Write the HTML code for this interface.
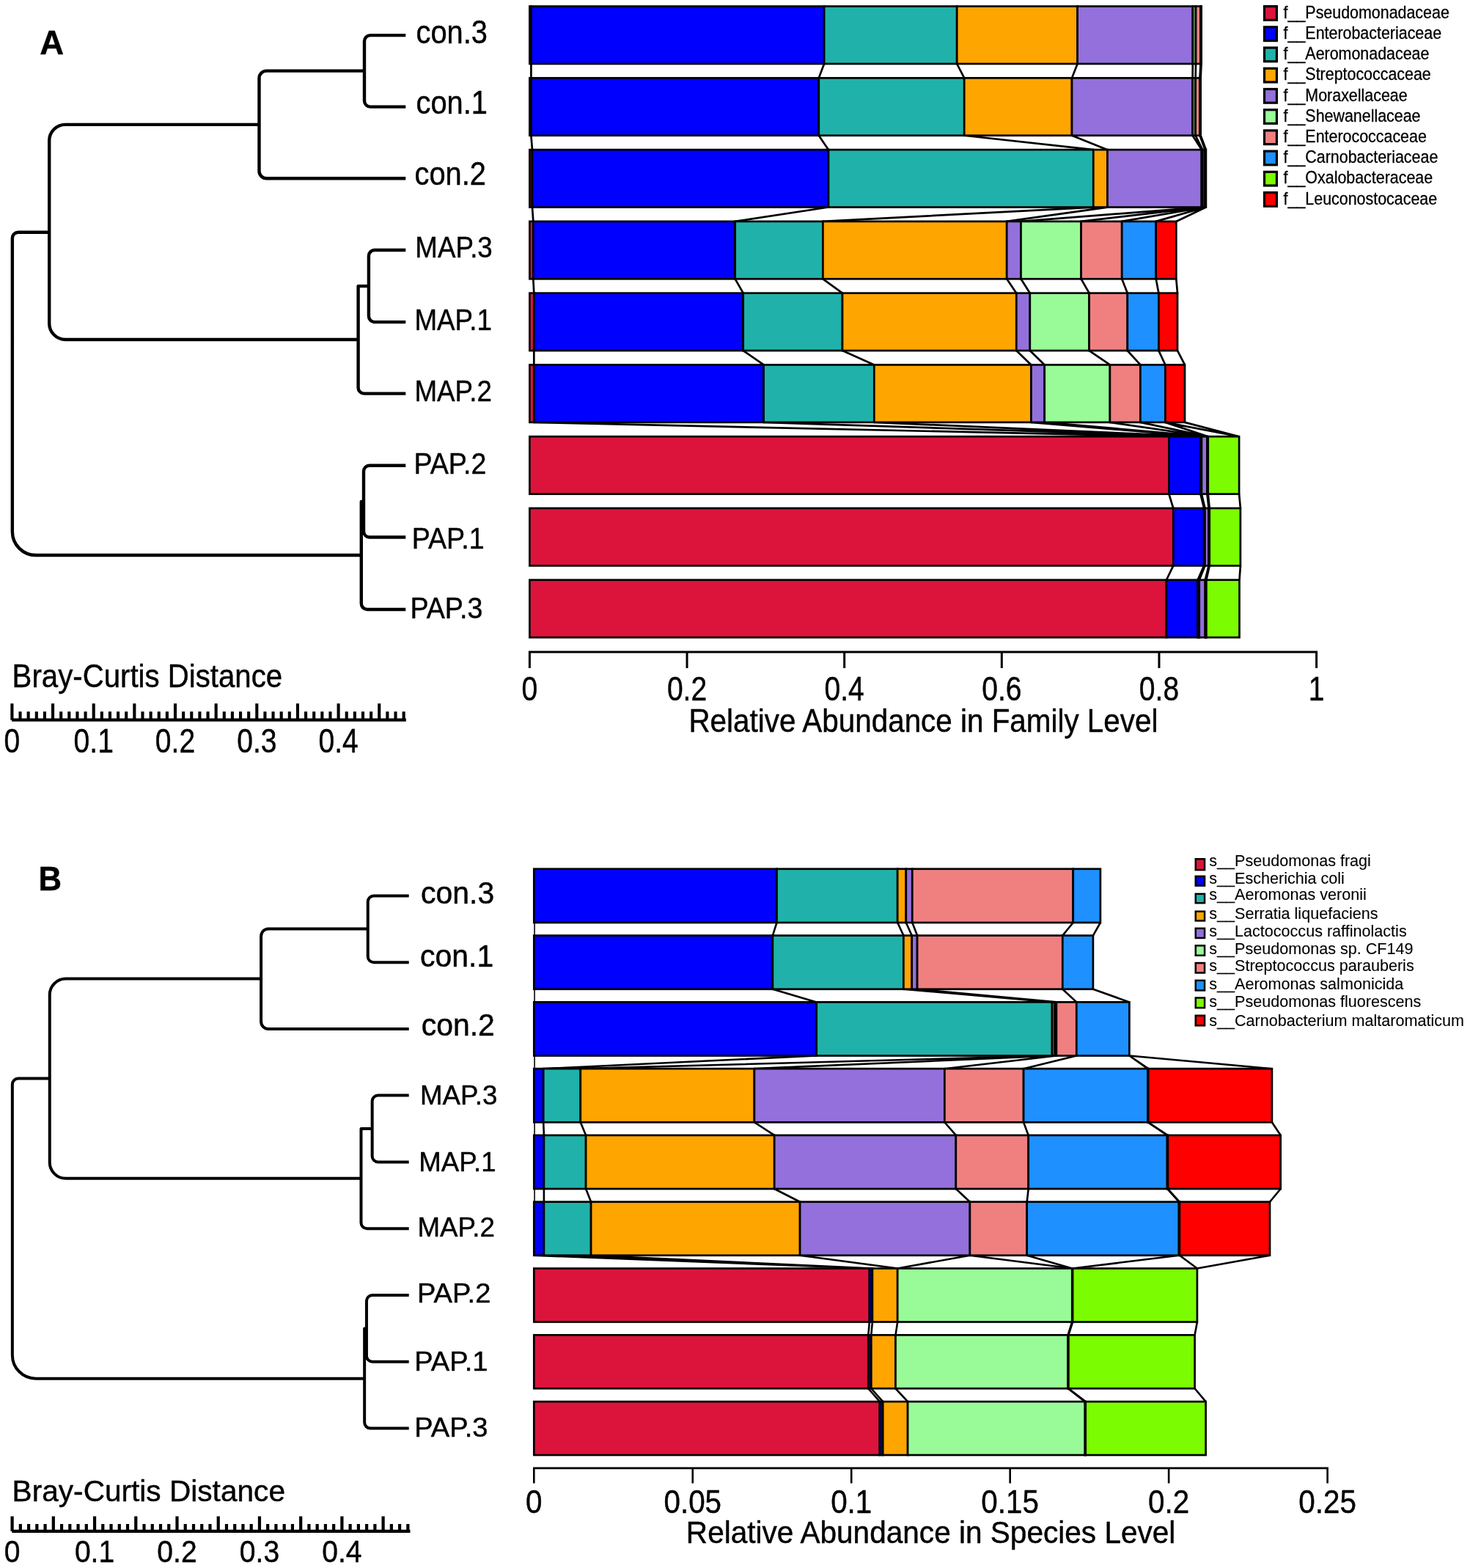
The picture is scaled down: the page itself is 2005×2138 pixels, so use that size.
<!DOCTYPE html>
<html lang="en">
<head>
<meta charset="utf-8">
<title>Relative abundance and Bray-Curtis clustering</title>
<style>
html,body{margin:0;padding:0;background:#fff;}
body{width:2005px;height:2138px;overflow:hidden;}
svg{display:block;}
svg text{font-family:'Liberation Sans', sans-serif;fill:#000;stroke:#000;stroke-width:0.45px;stroke-linejoin:round;}
svg text.sm{stroke-width:0.3px;}
svg text.lt{stroke-width:0.1px;}
</style>
</head>
<body>
<svg width="2005" height="2138" viewBox="0 0 2005 2138" role="img" aria-label="Bray-Curtis clustering trees and relative abundance bar plots at family and species level">
<rect x="0" y="0" width="2005" height="2138" fill="#fff"/>
<g id="panelA">
<path d="M1637.5 87L1638 87L1637 106.37L1636.5 106.37Z" fill="#1a1a1a"/>
<path d="M1638 87L1638.3 87L1637.3 106.37L1637 106.37Z" fill="#1a1a1a"/>
<path d="M1638.3 87L1638.55 87L1637.65 106.37L1637.3 106.37Z" fill="#1a1a1a"/>
<path d="M724.4 87L724.4 106.37M1124.1 87L1116.8 106.37M1305.2 87L1315.2 106.37M1469.6 87L1462 106.37M1626.8 87L1626.6 106.37M1631 87L1630.6 106.37M1637.5 87L1636.5 106.37M1638 87L1637 106.37M1638.3 87L1637.3 106.37M1638.55 87L1637.65 106.37" fill="none" stroke="#000" stroke-width="2.7"/>
<path d="M1636.5 184.77L1637 184.77L1644.2 204.14L1643.6 204.14Z" fill="#1a1a1a"/>
<path d="M1637 184.77L1637.3 184.77L1644.5 204.14L1644.2 204.14Z" fill="#1a1a1a"/>
<path d="M1637.3 184.77L1637.65 184.77L1644.9 204.14L1644.5 204.14Z" fill="#1a1a1a"/>
<path d="M724.4 184.77L726 204.14M1116.8 184.77L1130 204.14M1315.2 184.77L1491.3 204.14M1462 184.77L1510.5 204.14M1626.6 184.77L1638.9 204.14M1630.6 184.77L1640.2 204.14M1636.5 184.77L1643.6 204.14M1637 184.77L1644.2 204.14M1637.3 184.77L1644.5 204.14M1637.65 184.77L1644.9 204.14" fill="none" stroke="#000" stroke-width="2.7"/>
<path d="M1644.2 282.54L1644.5 282.54L1576.7 301.91L1576.7 301.91Z" fill="#1a1a1a"/>
<path d="M726 282.54L727.3 301.91M1130 282.54L1002.7 301.91M1491.3 282.54L1122.4 301.91M1510.5 282.54L1373.2 301.91M1638.9 282.54L1392.5 301.91M1640.2 282.54L1474.6 301.91M1643.6 282.54L1530.2 301.91M1644.2 282.54L1576.7 301.91M1644.5 282.54L1576.7 301.91M1644.9 282.54L1604.3 301.91" fill="none" stroke="#000" stroke-width="2.7"/>
<path d="M727.3 380.31L728.3 399.68M1002.7 380.31L1013.7 399.68M1122.4 380.31L1149 399.68M1373.2 380.31L1386.3 399.68M1392.5 380.31L1404.8 399.68M1474.6 380.31L1485.6 399.68M1530.2 380.31L1537.8 399.68M1576.7 380.31L1580.4 399.68M1604.3 380.31L1606 399.68" fill="none" stroke="#000" stroke-width="2.7"/>
<path d="M728.3 478.08L728.3 497.45M1013.7 478.08L1041.6 497.45M1149 478.08L1192.3 497.45M1386.3 478.08L1406.4 497.45M1404.8 478.08L1424.7 497.45M1485.6 478.08L1513.9 497.45M1537.8 478.08L1555.4 497.45M1580.4 478.08L1589.4 497.45M1606 478.08L1616 497.45" fill="none" stroke="#000" stroke-width="2.7"/>
<path d="M728.3 575.85L1594.4 595.22M1041.6 575.85L1637.4 595.22M1192.3 575.85L1638.2 595.22M1406.4 575.85L1638.95 595.22M1424.7 575.85L1646.5 595.22M1513.9 575.85L1647 595.22M1555.4 575.85L1647.4 595.22M1589.4 575.85L1647.75 595.22M1589.4 575.85L1690.1 595.22M1616 575.85L1690.1 595.22" fill="none" stroke="#000" stroke-width="2.7"/>
<path d="M1637.4 673.62L1638.2 673.62L1642.9 692.99L1642.2 692.99Z" fill="#1a1a1a"/>
<path d="M1638.2 673.62L1638.95 673.62L1643.5 692.99L1642.9 692.99Z" fill="#1a1a1a"/>
<path d="M1646.5 673.62L1647 673.62L1649 692.99L1648.65 692.99Z" fill="#1a1a1a"/>
<path d="M1647 673.62L1647.4 673.62L1649.4 692.99L1649 692.99Z" fill="#1a1a1a"/>
<path d="M1647.4 673.62L1647.75 673.62L1649.7 692.99L1649.4 692.99Z" fill="#1a1a1a"/>
<path d="M1594.4 673.62L1600.3 692.99M1637.4 673.62L1642.2 692.99M1638.2 673.62L1642.9 692.99M1638.95 673.62L1643.5 692.99M1646.5 673.62L1648.65 692.99M1647 673.62L1649 692.99M1647.4 673.62L1649.4 692.99M1647.75 673.62L1649.7 692.99M1690.1 673.62L1691.9 692.99" fill="none" stroke="#000" stroke-width="2.7"/>
<path d="M1642.2 771.39L1642.9 771.39L1634.7 790.76L1633.6 790.76Z" fill="#1a1a1a"/>
<path d="M1642.9 771.39L1643.5 771.39L1635.75 790.76L1634.7 790.76Z" fill="#1a1a1a"/>
<path d="M1648.65 771.39L1649 771.39L1644.4 790.76L1643.8 790.76Z" fill="#1a1a1a"/>
<path d="M1649 771.39L1649.4 771.39L1644.9 790.76L1644.4 790.76Z" fill="#1a1a1a"/>
<path d="M1649.4 771.39L1649.7 771.39L1645.4 790.76L1644.9 790.76Z" fill="#1a1a1a"/>
<path d="M1600.3 771.39L1590.95 790.76M1642.2 771.39L1633.6 790.76M1642.9 771.39L1634.7 790.76M1643.5 771.39L1635.75 790.76M1648.65 771.39L1643.8 790.76M1649 771.39L1644.4 790.76M1649.4 771.39L1644.9 790.76M1649.7 771.39L1645.4 790.76M1691.9 771.39L1690.5 790.76" fill="none" stroke="#000" stroke-width="2.7"/>
<rect x="722.4" y="8.6" width="2" height="78.4" fill="#4D0715" stroke="#000" stroke-width="2.7"/>
<rect x="724.4" y="8.6" width="399.7" height="78.4" fill="#0000FF" stroke="#000" stroke-width="2.7"/>
<rect x="1124.1" y="8.6" width="181.1" height="78.4" fill="#20B2AA" stroke="#000" stroke-width="2.7"/>
<rect x="1305.2" y="8.6" width="164.4" height="78.4" fill="#FFA500" stroke="#000" stroke-width="2.7"/>
<rect x="1469.6" y="8.6" width="157.2" height="78.4" fill="#9370DB" stroke="#000" stroke-width="2.7"/>
<rect x="1626.8" y="8.6" width="4.2" height="78.4" fill="#73BE73" stroke="#000" stroke-width="2.7"/>
<rect x="1631" y="8.6" width="6.5" height="78.4" fill="#F08080" stroke="#000" stroke-width="2.7"/>
<rect x="1637.5" y="8.6" width="0.5" height="78.4" fill="#0B3259" stroke="#000" stroke-width="2.7"/>
<rect x="1638" y="8.6" width="0.3" height="78.4" fill="#2B5800" stroke="#000" stroke-width="2.7"/>
<rect x="1638.3" y="8.6" width="0.25" height="78.4" fill="#590000" stroke="#000" stroke-width="2.7"/>
<rect x="722.4" y="106.37" width="2" height="78.4" fill="#4D0715" stroke="#000" stroke-width="2.7"/>
<rect x="724.4" y="106.37" width="392.4" height="78.4" fill="#0000FF" stroke="#000" stroke-width="2.7"/>
<rect x="1116.8" y="106.37" width="198.4" height="78.4" fill="#20B2AA" stroke="#000" stroke-width="2.7"/>
<rect x="1315.2" y="106.37" width="146.8" height="78.4" fill="#FFA500" stroke="#000" stroke-width="2.7"/>
<rect x="1462" y="106.37" width="164.6" height="78.4" fill="#9370DB" stroke="#000" stroke-width="2.7"/>
<rect x="1626.6" y="106.37" width="4" height="78.4" fill="#6BB06B" stroke="#000" stroke-width="2.7"/>
<rect x="1630.6" y="106.37" width="5.9" height="78.4" fill="#F08080" stroke="#000" stroke-width="2.7"/>
<rect x="1636.5" y="106.37" width="0.5" height="78.4" fill="#0B3259" stroke="#000" stroke-width="2.7"/>
<rect x="1637" y="106.37" width="0.3" height="78.4" fill="#2B5800" stroke="#000" stroke-width="2.7"/>
<rect x="1637.3" y="106.37" width="0.35" height="78.4" fill="#590000" stroke="#000" stroke-width="2.7"/>
<rect x="722.4" y="204.14" width="3.6" height="78.4" fill="#830C24" stroke="#000" stroke-width="2.7"/>
<rect x="726" y="204.14" width="404" height="78.4" fill="#0000FF" stroke="#000" stroke-width="2.7"/>
<rect x="1130" y="204.14" width="361.3" height="78.4" fill="#20B2AA" stroke="#000" stroke-width="2.7"/>
<rect x="1491.3" y="204.14" width="19.2" height="78.4" fill="#FFA500" stroke="#000" stroke-width="2.7"/>
<rect x="1510.5" y="204.14" width="128.4" height="78.4" fill="#9370DB" stroke="#000" stroke-width="2.7"/>
<rect x="1638.9" y="204.14" width="1.3" height="78.4" fill="#355835" stroke="#000" stroke-width="2.7"/>
<rect x="1640.2" y="204.14" width="3.4" height="78.4" fill="#814545" stroke="#000" stroke-width="2.7"/>
<rect x="1643.6" y="204.14" width="0.6" height="78.4" fill="#0B3259" stroke="#000" stroke-width="2.7"/>
<rect x="1644.2" y="204.14" width="0.3" height="78.4" fill="#2B5800" stroke="#000" stroke-width="2.7"/>
<rect x="1644.5" y="204.14" width="0.4" height="78.4" fill="#590000" stroke="#000" stroke-width="2.7"/>
<rect x="722.4" y="301.91" width="4.9" height="78.4" fill="#D01339" stroke="#000" stroke-width="2.7"/>
<rect x="727.3" y="301.91" width="275.4" height="78.4" fill="#0000FF" stroke="#000" stroke-width="2.7"/>
<rect x="1002.7" y="301.91" width="119.7" height="78.4" fill="#20B2AA" stroke="#000" stroke-width="2.7"/>
<rect x="1122.4" y="301.91" width="250.8" height="78.4" fill="#FFA500" stroke="#000" stroke-width="2.7"/>
<rect x="1373.2" y="301.91" width="19.3" height="78.4" fill="#9370DB" stroke="#000" stroke-width="2.7"/>
<rect x="1392.5" y="301.91" width="82.1" height="78.4" fill="#98FB98" stroke="#000" stroke-width="2.7"/>
<rect x="1474.6" y="301.91" width="55.6" height="78.4" fill="#F08080" stroke="#000" stroke-width="2.7"/>
<rect x="1530.2" y="301.91" width="46.5" height="78.4" fill="#1E90FF" stroke="#000" stroke-width="2.7"/>
<rect x="1576.7" y="301.91" width="27.6" height="78.4" fill="#FF0000" stroke="#000" stroke-width="2.7"/>
<rect x="722.4" y="399.68" width="5.9" height="78.4" fill="#DC143C" stroke="#000" stroke-width="2.7"/>
<rect x="728.3" y="399.68" width="285.4" height="78.4" fill="#0000FF" stroke="#000" stroke-width="2.7"/>
<rect x="1013.7" y="399.68" width="135.3" height="78.4" fill="#20B2AA" stroke="#000" stroke-width="2.7"/>
<rect x="1149" y="399.68" width="237.3" height="78.4" fill="#FFA500" stroke="#000" stroke-width="2.7"/>
<rect x="1386.3" y="399.68" width="18.5" height="78.4" fill="#9370DB" stroke="#000" stroke-width="2.7"/>
<rect x="1404.8" y="399.68" width="80.8" height="78.4" fill="#98FB98" stroke="#000" stroke-width="2.7"/>
<rect x="1485.6" y="399.68" width="52.2" height="78.4" fill="#F08080" stroke="#000" stroke-width="2.7"/>
<rect x="1537.8" y="399.68" width="42.6" height="78.4" fill="#1E90FF" stroke="#000" stroke-width="2.7"/>
<rect x="1580.4" y="399.68" width="25.6" height="78.4" fill="#FF0000" stroke="#000" stroke-width="2.7"/>
<rect x="722.4" y="497.45" width="5.9" height="78.4" fill="#DC143C" stroke="#000" stroke-width="2.7"/>
<rect x="728.3" y="497.45" width="313.3" height="78.4" fill="#0000FF" stroke="#000" stroke-width="2.7"/>
<rect x="1041.6" y="497.45" width="150.7" height="78.4" fill="#20B2AA" stroke="#000" stroke-width="2.7"/>
<rect x="1192.3" y="497.45" width="214.1" height="78.4" fill="#FFA500" stroke="#000" stroke-width="2.7"/>
<rect x="1406.4" y="497.45" width="18.3" height="78.4" fill="#9370DB" stroke="#000" stroke-width="2.7"/>
<rect x="1424.7" y="497.45" width="89.2" height="78.4" fill="#98FB98" stroke="#000" stroke-width="2.7"/>
<rect x="1513.9" y="497.45" width="41.5" height="78.4" fill="#F08080" stroke="#000" stroke-width="2.7"/>
<rect x="1555.4" y="497.45" width="34" height="78.4" fill="#1E90FF" stroke="#000" stroke-width="2.7"/>
<rect x="1589.4" y="497.45" width="26.6" height="78.4" fill="#FF0000" stroke="#000" stroke-width="2.7"/>
<rect x="722.4" y="595.22" width="872" height="78.4" fill="#DC143C" stroke="#000" stroke-width="2.7"/>
<rect x="1594.4" y="595.22" width="43" height="78.4" fill="#0000FF" stroke="#000" stroke-width="2.7"/>
<rect x="1637.4" y="595.22" width="0.8" height="78.4" fill="#0B3E3B" stroke="#000" stroke-width="2.7"/>
<rect x="1638.2" y="595.22" width="0.75" height="78.4" fill="#593A00" stroke="#000" stroke-width="2.7"/>
<rect x="1638.95" y="595.22" width="7.55" height="78.4" fill="#9370DB" stroke="#000" stroke-width="2.7"/>
<rect x="1646.5" y="595.22" width="0.5" height="78.4" fill="#355835" stroke="#000" stroke-width="2.7"/>
<rect x="1647" y="595.22" width="0.4" height="78.4" fill="#542D2D" stroke="#000" stroke-width="2.7"/>
<rect x="1647.4" y="595.22" width="0.35" height="78.4" fill="#0B3259" stroke="#000" stroke-width="2.7"/>
<rect x="1647.75" y="595.22" width="42.35" height="78.4" fill="#7CFC00" stroke="#000" stroke-width="2.7"/>
<rect x="722.4" y="692.99" width="877.9" height="78.4" fill="#DC143C" stroke="#000" stroke-width="2.7"/>
<rect x="1600.3" y="692.99" width="41.9" height="78.4" fill="#0000FF" stroke="#000" stroke-width="2.7"/>
<rect x="1642.2" y="692.99" width="0.7" height="78.4" fill="#0B3E3B" stroke="#000" stroke-width="2.7"/>
<rect x="1642.9" y="692.99" width="0.6" height="78.4" fill="#593A00" stroke="#000" stroke-width="2.7"/>
<rect x="1643.5" y="692.99" width="5.15" height="78.4" fill="#9370DB" stroke="#000" stroke-width="2.7"/>
<rect x="1648.65" y="692.99" width="0.35" height="78.4" fill="#355835" stroke="#000" stroke-width="2.7"/>
<rect x="1649" y="692.99" width="0.4" height="78.4" fill="#542D2D" stroke="#000" stroke-width="2.7"/>
<rect x="1649.4" y="692.99" width="0.3" height="78.4" fill="#0B3259" stroke="#000" stroke-width="2.7"/>
<rect x="1649.7" y="692.99" width="42.2" height="78.4" fill="#7CFC00" stroke="#000" stroke-width="2.7"/>
<rect x="722.4" y="790.76" width="868.55" height="78.4" fill="#DC143C" stroke="#000" stroke-width="2.7"/>
<rect x="1590.95" y="790.76" width="42.65" height="78.4" fill="#0000FF" stroke="#000" stroke-width="2.7"/>
<rect x="1633.6" y="790.76" width="1.1" height="78.4" fill="#0B3E3B" stroke="#000" stroke-width="2.7"/>
<rect x="1634.7" y="790.76" width="1.05" height="78.4" fill="#593A00" stroke="#000" stroke-width="2.7"/>
<rect x="1635.75" y="790.76" width="8.05" height="78.4" fill="#9370DB" stroke="#000" stroke-width="2.7"/>
<rect x="1643.8" y="790.76" width="0.6" height="78.4" fill="#355835" stroke="#000" stroke-width="2.7"/>
<rect x="1644.4" y="790.76" width="0.5" height="78.4" fill="#542D2D" stroke="#000" stroke-width="2.7"/>
<rect x="1644.9" y="790.76" width="0.5" height="78.4" fill="#0B3259" stroke="#000" stroke-width="2.7"/>
<rect x="1645.4" y="790.76" width="45.1" height="78.4" fill="#7CFC00" stroke="#000" stroke-width="2.7"/>
<path d="M722.4 911V889H1795.6V911" fill="none" stroke="#000" stroke-width="3"/>
<path d="M937.04 889V911M1151.68 889V911M1366.32 889V911M1580.96 889V911" fill="none" stroke="#000" stroke-width="3"/>
<text transform="translate(722.4 955) scale(0.84 1)" font-size="46.5" text-anchor="middle">0</text>
<text transform="translate(937.04 955) scale(0.84 1)" font-size="46.5" text-anchor="middle">0.2</text>
<text transform="translate(1151.68 955) scale(0.84 1)" font-size="46.5" text-anchor="middle">0.4</text>
<text transform="translate(1366.32 955) scale(0.84 1)" font-size="46.5" text-anchor="middle">0.6</text>
<text transform="translate(1580.96 955) scale(0.84 1)" font-size="46.5" text-anchor="middle">0.8</text>
<text transform="translate(1795.6 955) scale(0.84 1)" font-size="46.5" text-anchor="middle">1</text>
<text transform="translate(1259.4 998.2) scale(0.9 1)" font-size="44.9" text-anchor="middle">Relative Abundance in Family Level</text>
<rect x="1724.5" y="8.65" width="16.9" height="18.7" fill="#DC143C" stroke="#000" stroke-width="3.2"/>
<text class="sm" transform="translate(1750.6 24.8) scale(0.912 1)" font-size="23.5">f__Pseudomonadaceae</text>
<rect x="1724.5" y="36.86" width="16.9" height="18.7" fill="#0000FF" stroke="#000" stroke-width="3.2"/>
<text class="sm" transform="translate(1750.6 53.01) scale(0.912 1)" font-size="23.5">f__Enterobacteriaceae</text>
<rect x="1724.5" y="65.07" width="16.9" height="18.7" fill="#20B2AA" stroke="#000" stroke-width="3.2"/>
<text class="sm" transform="translate(1750.6 81.22) scale(0.912 1)" font-size="23.5">f__Aeromonadaceae</text>
<rect x="1724.5" y="93.28" width="16.9" height="18.7" fill="#FFA500" stroke="#000" stroke-width="3.2"/>
<text class="sm" transform="translate(1750.6 109.43) scale(0.912 1)" font-size="23.5">f__Streptococcaceae</text>
<rect x="1724.5" y="121.49" width="16.9" height="18.7" fill="#9370DB" stroke="#000" stroke-width="3.2"/>
<text class="sm" transform="translate(1750.6 137.64) scale(0.912 1)" font-size="23.5">f__Moraxellaceae</text>
<rect x="1724.5" y="149.7" width="16.9" height="18.7" fill="#98FB98" stroke="#000" stroke-width="3.2"/>
<text class="sm" transform="translate(1750.6 165.85) scale(0.912 1)" font-size="23.5">f__Shewanellaceae</text>
<rect x="1724.5" y="177.91" width="16.9" height="18.7" fill="#F08080" stroke="#000" stroke-width="3.2"/>
<text class="sm" transform="translate(1750.6 194.06) scale(0.912 1)" font-size="23.5">f__Enterococcaceae</text>
<rect x="1724.5" y="206.12" width="16.9" height="18.7" fill="#1E90FF" stroke="#000" stroke-width="3.2"/>
<text class="sm" transform="translate(1750.6 222.27) scale(0.912 1)" font-size="23.5">f__Carnobacteriaceae</text>
<rect x="1724.5" y="234.33" width="16.9" height="18.7" fill="#7CFC00" stroke="#000" stroke-width="3.2"/>
<text class="sm" transform="translate(1750.6 250.48) scale(0.912 1)" font-size="23.5">f__Oxalobacteraceae</text>
<rect x="1724.5" y="262.54" width="16.9" height="18.7" fill="#FF0000" stroke="#000" stroke-width="3.2"/>
<text class="sm" transform="translate(1750.6 278.69) scale(0.912 1)" font-size="23.5">f__Leuconostocaceae</text>
<text transform="translate(54.2 73.8) scale(0.98 1)" font-size="46.5" font-weight="bold">A</text>
<path d="M16.85 536.85V324.7A8 8 0 0 1 24.85 316.7H67.2M16.85 536.85V725A32 32 0 0 0 48.85 757H492.8M67.2 316.7V191.85A22 22 0 0 1 89.2 169.85H353.5M67.2 316.7V441A22 22 0 0 0 89.2 463H488.6M353.5 169.85V106.6A10 10 0 0 1 363.5 96.6H497M353.5 169.85V233.3A10 10 0 0 0 363.5 243.3H553.3M497 96.6V56.1A8 8 0 0 1 505 48.1H553.3M497 96.6V137.6A8 8 0 0 0 505 145.6H553.3M488.6 463V390.1H502.9M488.6 463V528.65A8 8 0 0 0 496.6 536.65H553.3M502.9 390.1V349A8 8 0 0 1 510.9 341H553.3M502.9 390.1V431.1A8 8 0 0 0 510.9 439.1H553.3M492.8 757V684H496M492.8 757V823A8 8 0 0 0 500.8 831H553.3M496 684V642.7A8 8 0 0 1 504 634.7H553.3M496 684V724.55A8 8 0 0 0 504 732.55H553.3" fill="none" stroke="#000" stroke-width="4.4" stroke-linejoin="round"/>
<text transform="translate(567.5 59.3) scale(0.885 1)" font-size="45">con.3</text>
<text transform="translate(567.5 155.2) scale(0.885 1)" font-size="45">con.1</text>
<text transform="translate(565.5 251.6) scale(0.885 1)" font-size="45">con.2</text>
<text transform="translate(566.3 350.6) scale(0.905 1)" font-size="40.6">MAP.3</text>
<text transform="translate(565.5 449.75) scale(0.905 1)" font-size="40.6">MAP.1</text>
<text transform="translate(565.5 546.9) scale(0.905 1)" font-size="40.6">MAP.2</text>
<text transform="translate(564.5 646.25) scale(0.931 1)" font-size="40.4">PAP.2</text>
<text transform="translate(561.75 748) scale(0.931 1)" font-size="40.4">PAP.1</text>
<text transform="translate(559.5 842.8) scale(0.931 1)" font-size="40.4">PAP.3</text>
<line x1="16.1" y1="981.65" x2="553.8" y2="981.65" stroke="#000" stroke-width="4.3"/>
<path d="M16.4 981.65V959.3M27.53 981.65V970.2M38.66 981.65V970.2M49.79 981.65V970.2M60.92 981.65V970.2M72.05 981.65V959.3M83.18 981.65V970.2M94.31 981.65V970.2M105.44 981.65V970.2M116.57 981.65V970.2M127.7 981.65V959.3M138.83 981.65V970.2M149.96 981.65V970.2M161.09 981.65V970.2M172.22 981.65V970.2M183.35 981.65V959.3M194.48 981.65V970.2M205.61 981.65V970.2M216.74 981.65V970.2M227.87 981.65V970.2M239 981.65V959.3M250.13 981.65V970.2M261.26 981.65V970.2M272.39 981.65V970.2M283.52 981.65V970.2M294.65 981.65V959.3M305.78 981.65V970.2M316.91 981.65V970.2M328.04 981.65V970.2M339.17 981.65V970.2M350.3 981.65V959.3M361.43 981.65V970.2M372.56 981.65V970.2M383.69 981.65V970.2M394.82 981.65V970.2M405.95 981.65V959.3M417.08 981.65V970.2M428.21 981.65V970.2M439.34 981.65V970.2M450.47 981.65V970.2M461.6 981.65V959.3M472.73 981.65V970.2M483.86 981.65V970.2M494.99 981.65V970.2M506.12 981.65V970.2M517.25 981.65V959.3M528.38 981.65V970.2M539.51 981.65V970.2M550.64 981.65V970.2" fill="none" stroke="#000" stroke-width="4.1"/>
<text transform="translate(16.6 937) scale(0.918 1)" font-size="43.8">Bray-Curtis Distance</text>
<text transform="translate(16.4 1026.4) scale(0.84 1)" font-size="46.5" text-anchor="middle">0</text>
<text transform="translate(127.7 1026.4) scale(0.84 1)" font-size="46.5" text-anchor="middle">0.1</text>
<text transform="translate(239 1026.4) scale(0.84 1)" font-size="46.5" text-anchor="middle">0.2</text>
<text transform="translate(350.3 1026.4) scale(0.84 1)" font-size="46.5" text-anchor="middle">0.3</text>
<text transform="translate(461.6 1026.4) scale(0.84 1)" font-size="46.5" text-anchor="middle">0.4</text>
</g>
<g id="panelB">
<path d="M729.08 1258V1275.59" fill="none" stroke="#000" stroke-width="1.56"/>
<path d="M1059.5 1258L1053.9 1275.59M1224.2 1258L1232.4 1275.59M1235.8 1258L1243.7 1275.59M1244.3 1258L1251.1 1275.59M1463.7 1258L1449.3 1275.59M1500.9 1258L1490.9 1275.59" fill="none" stroke="#000" stroke-width="2.6"/>
<path d="M729.08 1348.75V1366.38" fill="none" stroke="#000" stroke-width="1.56"/>
<path d="M1053.9 1348.75L1113.7 1366.38M1232.4 1348.75L1435 1366.38M1243.7 1348.75L1438.9 1366.38M1251.1 1348.75L1440.9 1366.38M1449.3 1348.75L1468.3 1366.38M1490.9 1348.75L1540.4 1366.38" fill="none" stroke="#000" stroke-width="2.6"/>
<path d="M729.08 1439.5V1457.17" fill="none" stroke="#000" stroke-width="1.56"/>
<path d="M1540.4 1439.5L1540.4 1439.5L1566.2 1457.17L1565.4 1457.17Z" fill="#1a1a1a"/>
<path d="M1113.7 1439.5L741.2 1457.17M1435 1439.5L791.8 1457.17M1438.9 1439.5L1028.9 1457.17M1440.9 1439.5L1288.4 1457.17M1468.3 1439.5L1396.1 1457.17M1540.4 1439.5L1565.4 1457.17M1540.4 1439.5L1566.2 1457.17M1540.4 1439.5L1734.9 1457.17" fill="none" stroke="#000" stroke-width="2.6"/>
<path d="M729.08 1530.25V1547.96" fill="none" stroke="#000" stroke-width="1.56"/>
<path d="M1565.4 1530.25L1566.2 1530.25L1592.9 1547.96L1592 1547.96Z" fill="#1a1a1a"/>
<path d="M741.2 1530.25L741.9 1547.96M791.8 1530.25L799.1 1547.96M1028.9 1530.25L1056.2 1547.96M1288.4 1530.25L1303.8 1547.96M1396.1 1530.25L1402.7 1547.96M1565.4 1530.25L1592 1547.96M1566.2 1530.25L1592.9 1547.96M1734.9 1530.25L1746.7 1547.96" fill="none" stroke="#000" stroke-width="2.6"/>
<path d="M729.08 1621V1638.75" fill="none" stroke="#000" stroke-width="1.56"/>
<path d="M1592 1621L1592.9 1621L1608.9 1638.75L1608 1638.75Z" fill="#1a1a1a"/>
<path d="M741.9 1621L741.9 1638.75M799.1 1621L806.1 1638.75M1056.2 1621L1091.1 1638.75M1303.8 1621L1322.9 1638.75M1402.7 1621L1400.7 1638.75M1592 1621L1608 1638.75M1592.9 1621L1608.9 1638.75M1746.7 1621L1732 1638.75" fill="none" stroke="#000" stroke-width="2.6"/>
<path d="M728.3 1711.75L1185.9 1729.54M741.9 1711.75L1189.9 1729.54M806.1 1711.75L1189.9 1729.54M1091.1 1711.75L1224.2 1729.54M1322.9 1711.75L1224.2 1729.54M1322.9 1711.75L1462.3 1729.54M1400.7 1711.75L1462.3 1729.54M1608 1711.75L1463.1 1729.54M1608.9 1711.75L1632.9 1729.54M1732 1711.75L1632.9 1729.54" fill="none" stroke="#000" stroke-width="2.6"/>
<path d="M1185.9 1802.5L1184.3 1820.33M1189.9 1802.5L1188.3 1820.33M1224.2 1802.5L1221.5 1820.33M1462.3 1802.5L1456.6 1820.33M1463.1 1802.5L1457.4 1820.33M1632.9 1802.5L1629.6 1820.33" fill="none" stroke="#000" stroke-width="2.6"/>
<path d="M1184.3 1893.25L1199.9 1911.12M1188.3 1893.25L1204.2 1911.12M1221.5 1893.25L1238.1 1911.12M1456.6 1893.25L1479.9 1911.12M1457.4 1893.25L1480.7 1911.12M1629.6 1893.25L1644.6 1911.12" fill="none" stroke="#000" stroke-width="2.6"/>
<rect x="728.3" y="1184.8" width="331.2" height="73.2" fill="#0000FF" stroke="#000" stroke-width="2.7"/>
<rect x="1059.5" y="1184.8" width="164.7" height="73.2" fill="#20B2AA" stroke="#000" stroke-width="2.7"/>
<rect x="1224.2" y="1184.8" width="11.6" height="73.2" fill="#FFA500" stroke="#000" stroke-width="2.7"/>
<rect x="1235.8" y="1184.8" width="8.5" height="73.2" fill="#9370DB" stroke="#000" stroke-width="2.7"/>
<rect x="1244.3" y="1184.8" width="219.4" height="73.2" fill="#F08080" stroke="#000" stroke-width="2.7"/>
<rect x="1463.7" y="1184.8" width="37.2" height="73.2" fill="#1E90FF" stroke="#000" stroke-width="2.7"/>
<rect x="728.3" y="1275.59" width="325.6" height="73.16" fill="#0000FF" stroke="#000" stroke-width="2.7"/>
<rect x="1053.9" y="1275.59" width="178.5" height="73.16" fill="#20B2AA" stroke="#000" stroke-width="2.7"/>
<rect x="1232.4" y="1275.59" width="11.3" height="73.16" fill="#FFA500" stroke="#000" stroke-width="2.7"/>
<rect x="1243.7" y="1275.59" width="7.4" height="73.16" fill="#9370DB" stroke="#000" stroke-width="2.7"/>
<rect x="1251.1" y="1275.59" width="198.2" height="73.16" fill="#F08080" stroke="#000" stroke-width="2.7"/>
<rect x="1449.3" y="1275.59" width="41.6" height="73.16" fill="#1E90FF" stroke="#000" stroke-width="2.7"/>
<rect x="728.3" y="1366.38" width="385.4" height="73.12" fill="#0000FF" stroke="#000" stroke-width="2.7"/>
<rect x="1113.7" y="1366.38" width="321.3" height="73.12" fill="#20B2AA" stroke="#000" stroke-width="2.7"/>
<rect x="1435" y="1366.38" width="3.9" height="73.12" fill="#AC6F00" stroke="#000" stroke-width="2.7"/>
<rect x="1438.9" y="1366.38" width="2" height="73.12" fill="#33274D" stroke="#000" stroke-width="2.7"/>
<rect x="1440.9" y="1366.38" width="27.4" height="73.12" fill="#F08080" stroke="#000" stroke-width="2.7"/>
<rect x="1468.3" y="1366.38" width="72.1" height="73.12" fill="#1E90FF" stroke="#000" stroke-width="2.7"/>
<rect x="728.3" y="1457.17" width="12.9" height="73.08" fill="#0000FF" stroke="#000" stroke-width="2.7"/>
<rect x="741.2" y="1457.17" width="50.6" height="73.08" fill="#20B2AA" stroke="#000" stroke-width="2.7"/>
<rect x="791.8" y="1457.17" width="237.1" height="73.08" fill="#FFA500" stroke="#000" stroke-width="2.7"/>
<rect x="1028.9" y="1457.17" width="259.5" height="73.08" fill="#9370DB" stroke="#000" stroke-width="2.7"/>
<rect x="1288.4" y="1457.17" width="107.7" height="73.08" fill="#F08080" stroke="#000" stroke-width="2.7"/>
<rect x="1396.1" y="1457.17" width="169.3" height="73.08" fill="#1E90FF" stroke="#000" stroke-width="2.7"/>
<rect x="1565.4" y="1457.17" width="0.8" height="73.08" fill="#2B5800" stroke="#000" stroke-width="2.7"/>
<rect x="1566.2" y="1457.17" width="168.7" height="73.08" fill="#FF0000" stroke="#000" stroke-width="2.7"/>
<rect x="728.3" y="1547.96" width="13.6" height="73.04" fill="#0000FF" stroke="#000" stroke-width="2.7"/>
<rect x="741.9" y="1547.96" width="57.2" height="73.04" fill="#20B2AA" stroke="#000" stroke-width="2.7"/>
<rect x="799.1" y="1547.96" width="257.1" height="73.04" fill="#FFA500" stroke="#000" stroke-width="2.7"/>
<rect x="1056.2" y="1547.96" width="247.6" height="73.04" fill="#9370DB" stroke="#000" stroke-width="2.7"/>
<rect x="1303.8" y="1547.96" width="98.9" height="73.04" fill="#F08080" stroke="#000" stroke-width="2.7"/>
<rect x="1402.7" y="1547.96" width="189.3" height="73.04" fill="#1E90FF" stroke="#000" stroke-width="2.7"/>
<rect x="1592" y="1547.96" width="0.9" height="73.04" fill="#2B5800" stroke="#000" stroke-width="2.7"/>
<rect x="1592.9" y="1547.96" width="153.8" height="73.04" fill="#FF0000" stroke="#000" stroke-width="2.7"/>
<rect x="728.3" y="1638.75" width="13.6" height="73" fill="#0000FF" stroke="#000" stroke-width="2.7"/>
<rect x="741.9" y="1638.75" width="64.2" height="73" fill="#20B2AA" stroke="#000" stroke-width="2.7"/>
<rect x="806.1" y="1638.75" width="285" height="73" fill="#FFA500" stroke="#000" stroke-width="2.7"/>
<rect x="1091.1" y="1638.75" width="231.8" height="73" fill="#9370DB" stroke="#000" stroke-width="2.7"/>
<rect x="1322.9" y="1638.75" width="77.8" height="73" fill="#F08080" stroke="#000" stroke-width="2.7"/>
<rect x="1400.7" y="1638.75" width="207.3" height="73" fill="#1E90FF" stroke="#000" stroke-width="2.7"/>
<rect x="1608" y="1638.75" width="0.9" height="73" fill="#2B5800" stroke="#000" stroke-width="2.7"/>
<rect x="1608.9" y="1638.75" width="123.1" height="73" fill="#FF0000" stroke="#000" stroke-width="2.7"/>
<rect x="728.3" y="1729.54" width="457.6" height="72.96" fill="#DC143C" stroke="#000" stroke-width="2.7"/>
<rect x="1185.9" y="1729.54" width="4" height="72.96" fill="#0000B3" stroke="#000" stroke-width="2.7"/>
<rect x="1189.9" y="1729.54" width="34.3" height="72.96" fill="#FFA500" stroke="#000" stroke-width="2.7"/>
<rect x="1224.2" y="1729.54" width="238.1" height="72.96" fill="#98FB98" stroke="#000" stroke-width="2.7"/>
<rect x="1462.3" y="1729.54" width="0.8" height="72.96" fill="#0B3259" stroke="#000" stroke-width="2.7"/>
<rect x="1463.1" y="1729.54" width="169.8" height="72.96" fill="#7CFC00" stroke="#000" stroke-width="2.7"/>
<rect x="728.3" y="1820.33" width="456" height="72.92" fill="#DC143C" stroke="#000" stroke-width="2.7"/>
<rect x="1184.3" y="1820.33" width="4" height="72.92" fill="#0000B3" stroke="#000" stroke-width="2.7"/>
<rect x="1188.3" y="1820.33" width="33.2" height="72.92" fill="#FFA500" stroke="#000" stroke-width="2.7"/>
<rect x="1221.5" y="1820.33" width="235.1" height="72.92" fill="#98FB98" stroke="#000" stroke-width="2.7"/>
<rect x="1456.6" y="1820.33" width="0.8" height="72.92" fill="#0B3259" stroke="#000" stroke-width="2.7"/>
<rect x="1457.4" y="1820.33" width="172.2" height="72.92" fill="#7CFC00" stroke="#000" stroke-width="2.7"/>
<rect x="728.3" y="1911.12" width="471.6" height="72.88" fill="#DC143C" stroke="#000" stroke-width="2.7"/>
<rect x="1199.9" y="1911.12" width="4.3" height="72.88" fill="#0000C8" stroke="#000" stroke-width="2.7"/>
<rect x="1204.2" y="1911.12" width="33.9" height="72.88" fill="#FFA500" stroke="#000" stroke-width="2.7"/>
<rect x="1238.1" y="1911.12" width="241.8" height="72.88" fill="#98FB98" stroke="#000" stroke-width="2.7"/>
<rect x="1479.9" y="1911.12" width="0.8" height="72.88" fill="#0B3259" stroke="#000" stroke-width="2.7"/>
<rect x="1480.7" y="1911.12" width="163.9" height="72.88" fill="#7CFC00" stroke="#000" stroke-width="2.7"/>
<path d="M728.3 2022.5V2001.9H1810.6V2022.5" fill="none" stroke="#000" stroke-width="2.6"/>
<path d="M944.76 2001.9V2022.5M1161.22 2001.9V2022.5M1377.68 2001.9V2022.5M1594.14 2001.9V2022.5" fill="none" stroke="#000" stroke-width="2.6"/>
<text transform="translate(728.3 2063.2) scale(0.91 1)" font-size="44.4" text-anchor="middle">0</text>
<text transform="translate(944.76 2063.2) scale(0.91 1)" font-size="44.4" text-anchor="middle">0.05</text>
<text transform="translate(1161.22 2063.2) scale(0.91 1)" font-size="44.4" text-anchor="middle">0.1</text>
<text transform="translate(1377.68 2063.2) scale(0.91 1)" font-size="44.4" text-anchor="middle">0.15</text>
<text transform="translate(1594.14 2063.2) scale(0.91 1)" font-size="44.4" text-anchor="middle">0.2</text>
<text transform="translate(1810.6 2063.2) scale(0.91 1)" font-size="44.4" text-anchor="middle">0.25</text>
<text transform="translate(1269.6 2104.1) scale(0.964 1)" font-size="42.1" text-anchor="middle">Relative Abundance in Species Level</text>
<rect x="1630.75" y="1171.25" width="12.3" height="14.9" fill="#DC143C" stroke="#000" stroke-width="2.5"/>
<text class="lt" transform="translate(1649.2 1181.3) scale(0.99 1)" font-size="21.8">s__Pseudomonas fragi</text>
<rect x="1630.75" y="1194.85" width="12.3" height="12.8" fill="#0000FF" stroke="#000" stroke-width="2.5"/>
<text class="lt" transform="translate(1649.2 1205.2) scale(0.99 1)" font-size="21.8">s__Escherichia coli</text>
<rect x="1630.75" y="1218.85" width="12.3" height="12.4" fill="#20B2AA" stroke="#000" stroke-width="2.5"/>
<text class="lt" transform="translate(1649.2 1226.9) scale(0.99 1)" font-size="21.8">s__Aeromonas veronii</text>
<rect x="1630.75" y="1242.75" width="12.3" height="12.7" fill="#FFA500" stroke="#000" stroke-width="2.5"/>
<text class="lt" transform="translate(1649.2 1252.9) scale(0.99 1)" font-size="21.8">s__Serratia liquefaciens</text>
<rect x="1630.75" y="1265.85" width="12.3" height="13.1" fill="#9370DB" stroke="#000" stroke-width="2.5"/>
<text class="lt" transform="translate(1649.2 1277.2) scale(0.99 1)" font-size="21.8">s__Lactococcus raffinolactis</text>
<rect x="1630.75" y="1289.35" width="12.3" height="13.4" fill="#98FB98" stroke="#000" stroke-width="2.5"/>
<text class="lt" transform="translate(1649.2 1301.4) scale(0.99 1)" font-size="21.8">s__Pseudomonas sp. CF149</text>
<rect x="1630.75" y="1313.05" width="12.3" height="13.4" fill="#F08080" stroke="#000" stroke-width="2.5"/>
<text class="lt" transform="translate(1649.2 1324.4) scale(0.99 1)" font-size="21.8">s__Streptococcus parauberis</text>
<rect x="1630.75" y="1336.85" width="12.3" height="13.6" fill="#1E90FF" stroke="#000" stroke-width="2.5"/>
<text class="lt" transform="translate(1649.2 1348.7) scale(0.99 1)" font-size="21.8">s__Aeromonas salmonicida</text>
<rect x="1630.75" y="1360.55" width="12.3" height="13.6" fill="#7CFC00" stroke="#000" stroke-width="2.5"/>
<text class="lt" transform="translate(1649.2 1372.7) scale(0.99 1)" font-size="21.8">s__Pseudomonas fluorescens</text>
<rect x="1630.75" y="1384.75" width="12.3" height="13.6" fill="#FF0000" stroke="#000" stroke-width="2.5"/>
<text class="lt" transform="translate(1649.2 1398.8) scale(0.99 1)" font-size="21.8">s__Carnobacterium maltaromaticum</text>
<text transform="translate(52.6 1214.3) scale(0.954 1)" font-size="45.8" font-weight="bold">B</text>
<path d="M16.85 1675.12V1478.6A8 8 0 0 1 24.85 1470.6H67.75M16.85 1675.12V1847.65A32 32 0 0 0 48.85 1879.65H497.15M67.75 1470.6V1356.55A22 22 0 0 1 89.75 1334.55H356.1M67.75 1470.6V1584.8A22 22 0 0 0 89.75 1606.8H492.5M356.1 1334.55V1276.5A10 10 0 0 1 366.1 1266.5H501.75M356.1 1334.55V1393A10 10 0 0 0 366.1 1403H557.7M501.75 1266.5V1229.5A8 8 0 0 1 509.75 1221.5H557.7M501.75 1266.5V1304.15A8 8 0 0 0 509.75 1312.15H557.7M492.5 1606.8V1539H507.65M492.5 1606.8V1667.3A8 8 0 0 0 500.5 1675.3H557.7M507.65 1539V1501.6A8 8 0 0 1 515.65 1493.6H557.7M507.65 1539V1576.5A8 8 0 0 0 515.65 1584.5H557.7M497.15 1879.65V1811.5H499.95M497.15 1879.65V1939.6A8 8 0 0 0 505.15 1947.6H557.7M499.95 1811.5V1774A8 8 0 0 1 507.95 1766H557.7M499.95 1811.5V1848.8A8 8 0 0 0 507.95 1856.8H557.7" fill="none" stroke="#000" stroke-width="4" stroke-linejoin="round"/>
<text transform="translate(574 1231.7) scale(0.973 1)" font-size="42.1">con.3</text>
<text transform="translate(573 1317.75) scale(0.973 1)" font-size="42.1">con.1</text>
<text transform="translate(574.7 1412.35) scale(0.973 1)" font-size="42.1">con.2</text>
<text x="573" y="1506.3" font-size="36.7">MAP.3</text>
<text x="571.2" y="1596.55" font-size="36.7">MAP.1</text>
<text x="569.5" y="1686.1" font-size="36.7">MAP.2</text>
<text transform="translate(569 1776) scale(1.045 1)" font-size="36.5">PAP.2</text>
<text transform="translate(565.2 1868.7) scale(1.045 1)" font-size="36.5">PAP.1</text>
<text transform="translate(565.2 1958.7) scale(1.045 1)" font-size="36.5">PAP.3</text>
<line x1="16.3" y1="2087.85" x2="559.5" y2="2087.85" stroke="#000" stroke-width="4.3"/>
<path d="M16.6 2087.85V2067.6M27.84 2087.85V2077.9M39.09 2087.85V2077.9M50.34 2087.85V2077.9M61.58 2087.85V2077.9M72.82 2087.85V2067.6M84.07 2087.85V2077.9M95.31 2087.85V2077.9M106.56 2087.85V2077.9M117.81 2087.85V2077.9M129.05 2087.85V2067.6M140.29 2087.85V2077.9M151.54 2087.85V2077.9M162.78 2087.85V2077.9M174.03 2087.85V2077.9M185.27 2087.85V2067.6M196.52 2087.85V2077.9M207.76 2087.85V2077.9M219.01 2087.85V2077.9M230.25 2087.85V2077.9M241.5 2087.85V2067.6M252.74 2087.85V2077.9M263.99 2087.85V2077.9M275.24 2087.85V2077.9M286.48 2087.85V2077.9M297.73 2087.85V2067.6M308.97 2087.85V2077.9M320.21 2087.85V2077.9M331.46 2087.85V2077.9M342.7 2087.85V2077.9M353.95 2087.85V2067.6M365.19 2087.85V2077.9M376.44 2087.85V2077.9M387.69 2087.85V2077.9M398.93 2087.85V2077.9M410.18 2087.85V2067.6M421.42 2087.85V2077.9M432.67 2087.85V2077.9M443.91 2087.85V2077.9M455.15 2087.85V2077.9M466.4 2087.85V2067.6M477.64 2087.85V2077.9M488.89 2087.85V2077.9M500.13 2087.85V2077.9M511.38 2087.85V2077.9M522.62 2087.85V2067.6M533.87 2087.85V2077.9M545.12 2087.85V2077.9M556.36 2087.85V2077.9" fill="none" stroke="#000" stroke-width="4.2"/>
<text transform="translate(16.6 2047.4) scale(0.991 1)" font-size="41">Bray-Curtis Distance</text>
<text transform="translate(16.6 2129.9) scale(0.92 1)" font-size="42.5" text-anchor="middle">0</text>
<text transform="translate(129.05 2129.9) scale(0.92 1)" font-size="42.5" text-anchor="middle">0.1</text>
<text transform="translate(241.5 2129.9) scale(0.92 1)" font-size="42.5" text-anchor="middle">0.2</text>
<text transform="translate(353.95 2129.9) scale(0.92 1)" font-size="42.5" text-anchor="middle">0.3</text>
<text transform="translate(466.4 2129.9) scale(0.92 1)" font-size="42.5" text-anchor="middle">0.4</text>
</g>
</svg>
</body>
</html>
